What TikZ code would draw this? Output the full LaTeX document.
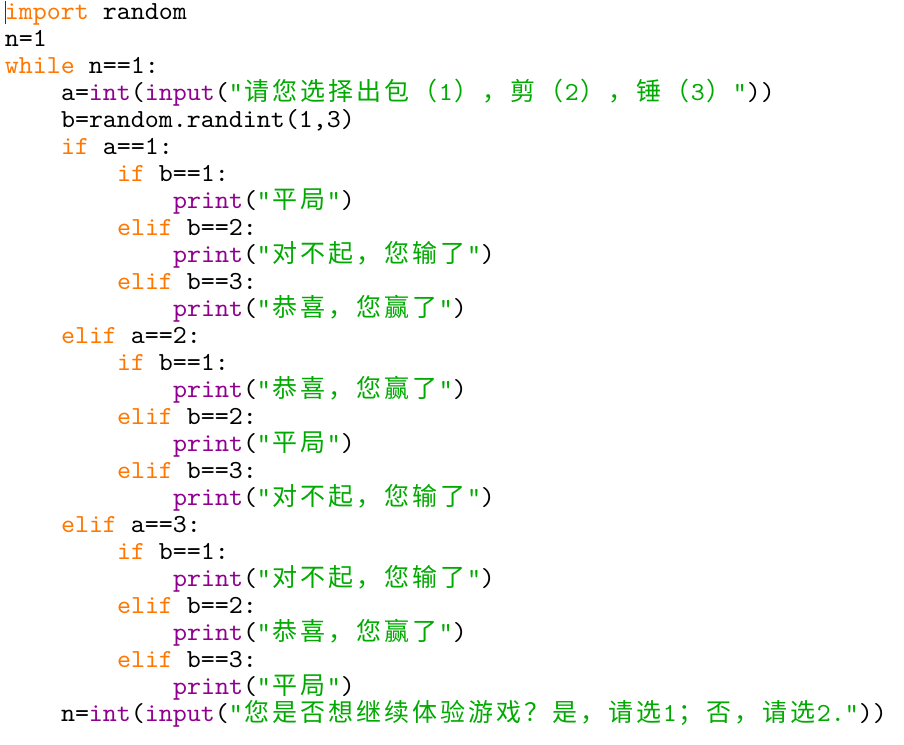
\documentclass[tikz,border=0pt]{standalone}
\usepackage{fontspec}
\usepackage{xcolor}
\newfontfamily\codefont[FakeStretch=1.0256]{lmmono10-regular.otf}
\newfontfamily\cjk{Noto Sans CJK SC}
\definecolor{kw}{HTML}{FF7700}
\definecolor{bi}{HTML}{900090}
\definecolor{st}{HTML}{00AA00}
\makeatletter
\def\zh@loop#1{\ifx\zh@end#1\else\hbox to 28pt{\hss#1\hss}\expandafter\zh@loop\fi}
\def\zh@end{\zh@end}
\newcommand\zh[1]{{\cjk\fontsize{25}{27}\selectfont\zh@loop#1\zh@end}}
\makeatother
\newcommand\K[1]{\textcolor{kw}{#1}}
\newcommand\B[1]{\textcolor{bi}{#1}}
\newcommand\Q[1]{\textcolor{st}{#1}}
\newcommand\qt{\char"22\relax}
\begin{document}
\begin{tikzpicture}[x=1pt,y=-1pt,
  code/.style={anchor=base west,inner sep=0pt,outer sep=0pt,
    font=\codefont\fontsize{26}{27}\selectfont}]
\useasboundingbox (0,0) rectangle (904,744);
\fill[white] (0,0) rectangle (904,744);
\draw[black!80,line width=1pt] (5.5,1) -- (5.5,24);
\node[code] (l1) at (5,19) {\K{import} random};
\node[code] (l2) at (5,46) {n=1};
\node[code] (l3) at (5,73) {\K{while} n==1:};
\node[code] (l4) at (61,100) {a=\B{int}(\B{input}(\Q{\qt\zh{请您选择出包（}1\zh{），剪（}2\zh{），锤（}3\zh{）}\qt}))};
\node[code] (l5) at (61,127) {b=random.randint(1,3)};
\node[code] (l6) at (61,154) {\K{if} a==1:};
\node[code] (l7) at (117,181) {\K{if} b==1:};
\node[code] (l8) at (173,208) {\B{print}(\Q{\qt\zh{平局}\qt})};
\node[code] (l9) at (117,235) {\K{elif} b==2:};
\node[code] (l10) at (173,262) {\B{print}(\Q{\qt\zh{对不起，您输了}\qt})};
\node[code] (l11) at (117,289) {\K{elif} b==3:};
\node[code] (l12) at (173,316) {\B{print}(\Q{\qt\zh{恭喜，您赢了}\qt})};
\node[code] (l13) at (61,343) {\K{elif} a==2:};
\node[code] (l14) at (117,370) {\K{if} b==1:};
\node[code] (l15) at (173,397) {\B{print}(\Q{\qt\zh{恭喜，您赢了}\qt})};
\node[code] (l16) at (117,424) {\K{elif} b==2:};
\node[code] (l17) at (173,451) {\B{print}(\Q{\qt\zh{平局}\qt})};
\node[code] (l18) at (117,478) {\K{elif} b==3:};
\node[code] (l19) at (173,505) {\B{print}(\Q{\qt\zh{对不起，您输了}\qt})};
\node[code] (l20) at (61,532) {\K{elif} a==3:};
\node[code] (l21) at (117,559) {\K{if} b==1:};
\node[code] (l22) at (173,586) {\B{print}(\Q{\qt\zh{对不起，您输了}\qt})};
\node[code] (l23) at (117,613) {\K{elif} b==2:};
\node[code] (l24) at (173,640) {\B{print}(\Q{\qt\zh{恭喜，您赢了}\qt})};
\node[code] (l25) at (117,667) {\K{elif} b==3:};
\node[code] (l26) at (173,694) {\B{print}(\Q{\qt\zh{平局}\qt})};
\node[code] (l27) at (61,721) {n=\B{int}(\B{input}(\Q{\qt\zh{您是否想继续体验游戏？是，请选}1\zh{；否，请选}2.\qt}))};
\end{tikzpicture}
\end{document}
